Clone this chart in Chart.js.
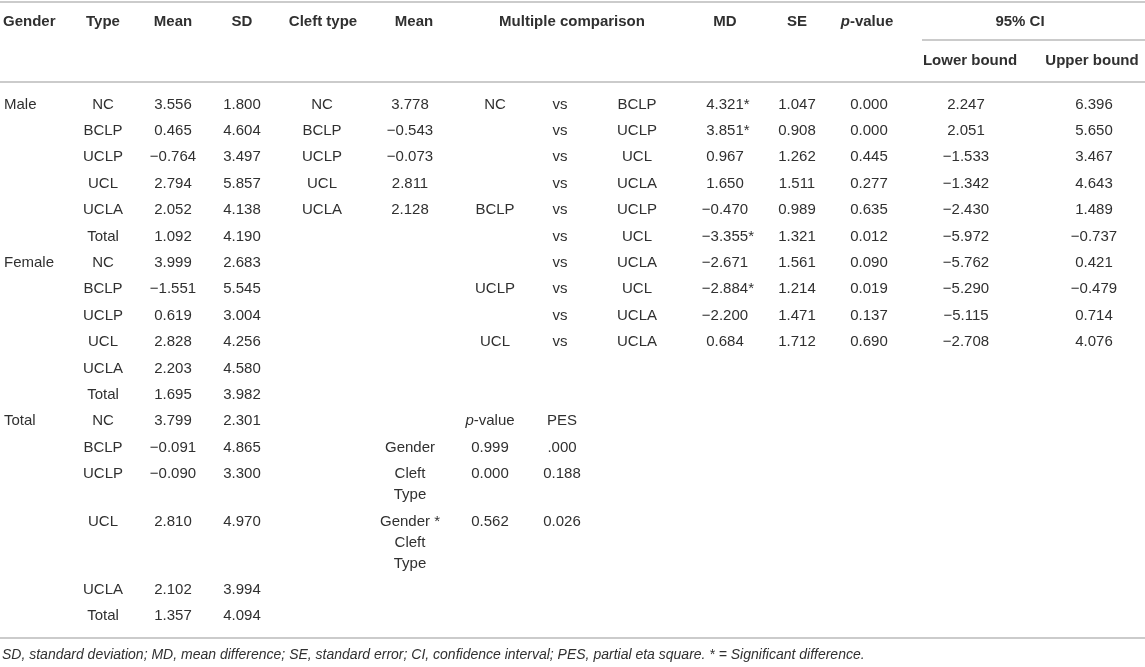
<!DOCTYPE html>
<html>
<head>
<meta charset="utf-8">
<script src="https://cdn.jsdelivr.net/npm/chart.js@4.4.1/dist/chart.umd.min.js"></script>
<style>
html, body { margin: 0; padding: 0; background: #fff; }
#wrap { width: 1145px; height: 667px; }
</style>
</head>
<body>
<div id="wrap"><canvas id="myChart"></canvas></div>
<script>
// Descriptive stats, one row per gender x type
var genders = ['Male', 'Female', 'Total'];
var types = ['NC', 'BCLP', 'UCLP', 'UCL', 'UCLA', 'Total'];
var meanMale = [3.556, 0.465, -0.764, 2.794, 2.052, 1.092];
var sdMale = [1.800, 4.604, 3.497, 5.857, 4.138, 4.190];
var meanFemale = [3.999, -1.551, 0.619, 2.828, 2.203, 1.695];
var sdFemale = [2.683, 5.545, 3.004, 4.256, 4.580, 3.982];
var meanTotal = [3.799, -0.091, -0.090, 2.810, 2.102, 1.357];
var sdTotal = [2.301, 4.865, 3.300, 4.970, 3.994, 4.094];

// Cleft type means
var cleftTypes = ['NC', 'BCLP', 'UCLP', 'UCL', 'UCLA'];
var cleftMeans = [3.778, -0.543, -0.073, 2.811, 2.128];

// Multiple comparison
var compA = ['NC', '', '', '', 'BCLP', '', '', 'UCLP', '', 'UCL'];
var compB = ['BCLP', 'UCLP', 'UCL', 'UCLA', 'UCLP', 'UCL', 'UCLA', 'UCL', 'UCLA', 'UCLA'];
var md = [4.321, 3.851, 0.967, 1.650, -0.470, -3.355, -2.671, -2.884, -2.200, 0.684];
var mdSig = [true, true, false, false, false, true, false, true, false, false];
var se = [1.047, 0.908, 1.262, 1.511, 0.989, 1.321, 1.561, 1.214, 1.471, 1.712];
var pValue = [0.000, 0.000, 0.445, 0.277, 0.635, 0.012, 0.090, 0.019, 0.137, 0.690];
var lowerBound = [2.247, 2.051, -1.533, -1.342, -2.430, -5.972, -5.762, -5.290, -5.115, -2.708];
var upperBound = [6.396, 5.650, 3.467, 4.643, 1.489, -0.737, 0.421, -0.479, 0.714, 4.076];

// Two-way ANOVA effects
var effects = ['Gender', 'Cleft\nType', 'Gender *\nCleft\nType'];
var anovaP = [0.999, 0.000, 0.562];
var pes = ['.000', '0.188', '0.026'];

var footnote = 'SD, standard deviation; MD, mean difference; SE, standard error; CI, confidence interval; PES, partial eta square. * = Significant difference.';

// ---- layout ----
var W = 1145, H = 667;
var TEXT = '#303030', RULE = '#cbcbcb';
var FAMILY = '"Liberation Sans", Arial, Helvetica, sans-serif';
var SIZE = 15;
var LINE_H = 21;

// extra text lines each body row needs (the anova labels wrap)
var extraLines = [0,0,0,0,0,0, 0,0,0,0,0,0, 0,0,1,2,0,0];
var rowY = [];
var y = 104.5;
extraLines.forEach(function (e) { rowY.push(y); y += 26.4 + e * LINE_H; });

function fmt(v) {
  return (v < 0 ? '\u2212' : '') + Math.abs(v).toFixed(3);
}

function column(x, rows, texts, opts) {
  opts = opts || {};
  return {
    data: rows.map(function (r) { return { x: x, y: rowY[r] }; }),
    texts: texts,
    tails: opts.tails,
    align: opts.align || 'center',
    pointRadius: 0,
    showLine: false
  };
}
function cell(x, yy, text, opts) {
  opts = opts || {};
  return {
    data: [{ x: x, y: yy }],
    texts: [text],
    bold: opts.bold !== false,
    italic: !!opts.italic,
    size: opts.size,
    align: opts.align || 'center',
    pointRadius: 0,
    showLine: false
  };
}
function rule(x1, x2, yy) {
  return {
    data: [{ x: x1, y: yy }, { x: x2, y: yy }],
    showLine: true,
    borderColor: RULE,
    borderWidth: 2,
    pointRadius: 0
  };
}
function range(a, n) { var r = []; for (var i = 0; i < n; i++) r.push(a + i); return r; }

var typeTexts = types.concat(types, types);
var meanTexts = meanMale.concat(meanFemale, meanTotal).map(fmt);
var sdTexts = sdMale.concat(sdFemale, sdTotal).map(fmt);

var datasets = [
  rule(0, W, 2),
  rule(922, W, 40),
  rule(0, W, 82),
  rule(0, W, 638),

  cell(3, 22, 'Gender', { align: 'left' }),
  cell(103, 22, 'Type'),
  cell(173, 22, 'Mean'),
  cell(242, 22, 'SD'),
  cell(323, 22, 'Cleft type'),
  cell(414, 22, 'Mean'),
  cell(572, 22, 'Multiple comparison'),
  cell(725, 22, 'MD'),
  cell(797, 22, 'SE'),
  cell(867, 22, '_p_-value'),
  cell(1020, 22, '95% CI'),
  cell(970, 61, 'Lower bound'),
  cell(1092, 61, 'Upper bound'),

  column(4, [0, 6, 12], genders, { align: 'left' }),
  column(103, range(0, 18), typeTexts),
  column(173, range(0, 18), meanTexts),
  column(242, range(0, 18), sdTexts),
  column(322, range(0, 5), cleftTypes),
  column(410, range(0, 5), cleftMeans.map(fmt)),
  column(495, range(0, 10), compA),
  column(560, range(0, 10), compB.map(function () { return 'vs'; })),
  column(637, range(0, 10), compB),
  column(725, range(0, 10), md.map(fmt), { tails: mdSig.map(function (s) { return s ? '*' : ''; }) }),
  column(797, range(0, 10), se.map(fmt)),
  column(869, range(0, 10), pValue.map(fmt)),
  column(966, range(0, 10), lowerBound.map(fmt)),
  column(1094, range(0, 10), upperBound.map(fmt)),

  column(490, [12], ['_p_-value']),
  column(562, [12], ['PES']),
  column(410, [13, 14, 15], effects),
  column(490, [13, 14, 15], anovaP.map(fmt)),
  column(562, [13, 14, 15], pes),

  cell(2, 655, footnote, { align: 'left', bold: false, italic: true, size: 14 })
];

// draws text like '_p_-value' where the part between underscores is italic;
// a tail (the significance star) hangs after the centred text
function drawRich(ctx, text, tail, x, yy, ds) {
  var size = ds.size || SIZE;
  var weight = ds.bold ? 'bold ' : '';
  var parts = text.split('_');
  var segs = parts.map(function (t, i) {
    var it = (i % 2 === 1) || ds.italic;
    ctx.font = (it ? 'italic ' : '') + weight + size + 'px ' + FAMILY;
    return { t: t, font: ctx.font, w: ctx.measureText(t).width };
  });
  var total = segs.reduce(function (s, g) { return s + g.w; }, 0);
  var cx = ds.align === 'left' ? x : x - total / 2;
  ctx.textAlign = 'left';
  segs.forEach(function (g) {
    ctx.font = g.font;
    ctx.fillText(g.t, cx, yy);
    cx += g.w;
  });
  if (tail) ctx.fillText(tail, cx, yy);
}

var tableText = {
  id: 'tableText',
  afterDatasetsDraw: function (chart) {
    var ctx = chart.ctx;
    ctx.save();
    ctx.fillStyle = TEXT;
    ctx.textBaseline = 'middle';
    chart.data.datasets.forEach(function (ds, i) {
      if (!ds.texts) return;
      var meta = chart.getDatasetMeta(i);
      meta.data.forEach(function (pt, j) {
        var lines = String(ds.texts[j]).split('\n');
        lines.forEach(function (ln, k) {
          var tail = (ds.tails && k === lines.length - 1) ? ds.tails[j] : '';
          drawRich(ctx, ln, tail, pt.x, pt.y + k * LINE_H, ds);
        });
      });
    });
    ctx.restore();
  }
};

new Chart(document.getElementById('myChart'), {
  type: 'scatter',
  data: { datasets: datasets },
  options: {
    responsive: true,
    maintainAspectRatio: false,
    animation: false,
    events: [],
    layout: { padding: 0 },
    plugins: { legend: { display: false }, tooltip: { enabled: false } },
    scales: {
      x: { type: 'linear', min: 0, max: W, display: false },
      y: { type: 'linear', min: 0, max: H, reverse: true, display: false }
    },
    elements: { line: { borderCapStyle: 'butt' } },
    datasets: { scatter: { clip: false } }
  },
  plugins: [tableText]
});
</script>
</body>
</html>
